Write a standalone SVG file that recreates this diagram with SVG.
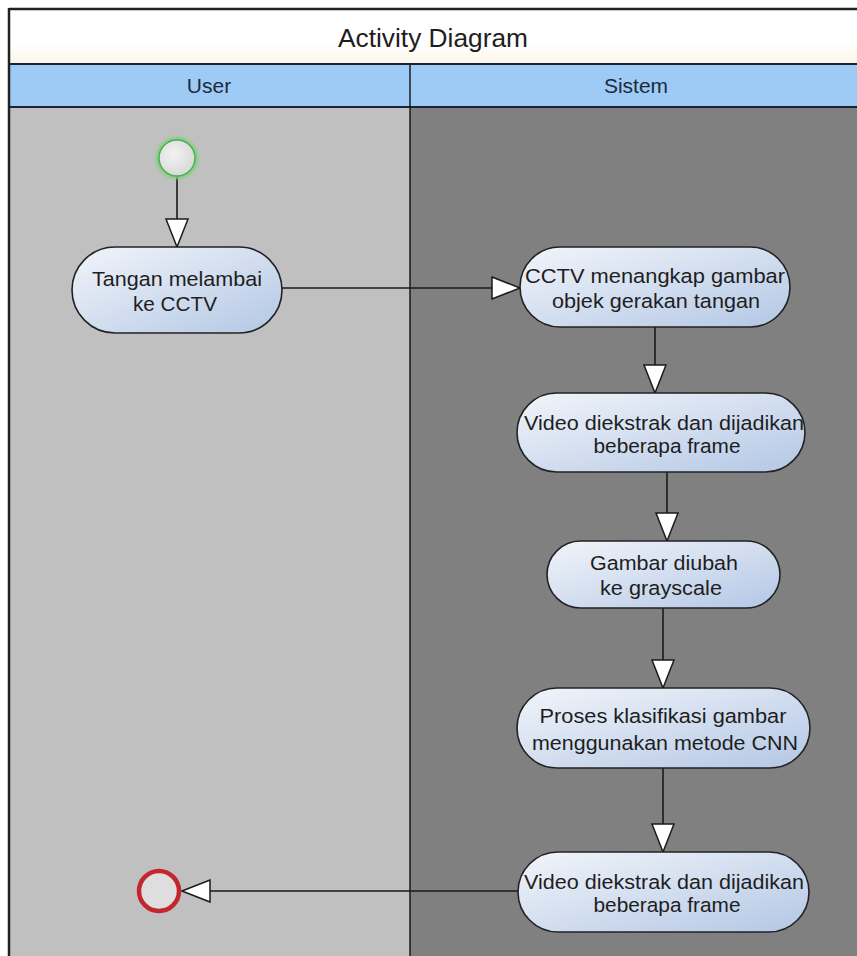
<svg xmlns="http://www.w3.org/2000/svg" width="857" height="956" viewBox="0 0 857 956">
<style>
.frame{fill:none;stroke:#1a1a1a;stroke-width:1.5}
.act{fill:url(#actGrad);stroke:#222;stroke-width:1.6}
.t{font-family:"Liberation Sans",Arial,sans-serif;font-size:20.5px;fill:#1e1e1e;text-anchor:middle}
.hdr{font-family:"Liberation Sans",Arial,sans-serif;font-size:21px;fill:#1e2a3a;text-anchor:middle}
.title{font-family:"Liberation Sans",Arial,sans-serif;font-size:25px;fill:#1e1e1e;text-anchor:middle}
.edge{fill:none;stroke:#1a1a1a;stroke-width:1.6;marker-end:url(#arr)}
</style>
<defs>
<linearGradient id="actGrad" x1="0" y1="0" x2="1" y2="1">
<stop offset="0" stop-color="#f2f5fa"/>
<stop offset="1" stop-color="#b3c7e5"/>
</linearGradient>
<radialGradient id="startGrad" cx="0.4" cy="0.4" r="0.7">
<stop offset="0" stop-color="#f2f2f2"/>
<stop offset="1" stop-color="#d6d6d6"/>
</radialGradient>
<linearGradient id="titleGrad" x1="0" y1="0" x2="0" y2="1">
<stop offset="0" stop-color="#ffffff"/>
<stop offset="0.6" stop-color="#ffffff"/>
<stop offset="1" stop-color="#fbf6ea"/>
</linearGradient>
<marker id="arr" viewBox="0 0 30 24" refX="29" refY="12" markerWidth="30" markerHeight="24" markerUnits="userSpaceOnUse" orient="auto">
<path d="M1,1 L29,12 L1,23 Z" fill="#ffffff" stroke="#1a1a1a" stroke-width="1.5" stroke-linejoin="miter"/>
</marker>
<filter id="glowG" x="-50%" y="-50%" width="200%" height="200%">
<feGaussianBlur stdDeviation="1.5"/>
</filter>
</defs>

<g id="swimlanes">
<rect x="9" y="9" width="848" height="55" fill="url(#titleGrad)"/>
<rect x="9" y="64" width="848" height="43" fill="#9dcbf6"/>
<rect x="9" y="107" width="401" height="849" fill="#c0c0c0"/>
<rect x="410" y="107" width="447" height="849" fill="#808080"/>
<line x1="9" y1="9" x2="857" y2="9" stroke="#222" stroke-width="2.5"/>
<line x1="9" y1="8" x2="9" y2="956" stroke="#222" stroke-width="2.5"/>
<line x1="9" y1="64" x2="857" y2="64" stroke="#1a2333" stroke-width="2"/>
<line x1="9" y1="107" x2="857" y2="107" stroke="#1a2333" stroke-width="2"/>
<line x1="410" y1="64" x2="410" y2="956" stroke="#1a1a1a" stroke-width="1.5"/>
<text class="title" x="433" y="47" textLength="190" lengthAdjust="spacingAndGlyphs">Activity Diagram</text>
<text class="hdr" x="209" y="93">User</text>
<text class="hdr" x="636" y="93">Sistem</text>
</g>

<g id="connectors">
<line class="edge" x1="177" y1="177" x2="177" y2="247"/>
<line class="edge" x1="282" y1="288" x2="520" y2="288"/>
<line class="edge" x1="655" y1="327" x2="655" y2="393"/>
<line class="edge" x1="667" y1="472" x2="667" y2="541"/>
<line class="edge" x1="663" y1="608" x2="663" y2="688"/>
<line class="edge" x1="663" y1="768" x2="663" y2="852"/>
<line class="edge" x1="518" y1="891" x2="182" y2="891"/>
</g>

<g id="start">
<circle cx="177" cy="158" r="19" fill="none" stroke="#7fd07f" stroke-width="4" filter="url(#glowG)"/>
<circle cx="177" cy="158" r="18" fill="url(#startGrad)" stroke="#4caf50" stroke-width="1.5"/>
</g>

<g id="a1">
<rect class="act" x="72" y="247" width="210" height="86" rx="43" ry="43"/>
<text class="t" x="177" y="286" textLength="170" lengthAdjust="spacingAndGlyphs">Tangan melambai</text>
<text class="t" x="175" y="311" textLength="84" lengthAdjust="spacingAndGlyphs">ke CCTV</text>
</g>

<g id="a2">
<rect class="act" x="520" y="247" width="270" height="80" rx="40" ry="40"/>
<text class="t" x="655" y="283" textLength="260" lengthAdjust="spacingAndGlyphs">CCTV menangkap gambar</text>
<text class="t" x="656" y="308" textLength="208" lengthAdjust="spacingAndGlyphs">objek gerakan tangan</text>
</g>

<g id="a3">
<rect class="act" x="517" y="393" width="288" height="79" rx="39.5" ry="39.5"/>
<text class="t" x="664" y="430" textLength="280" lengthAdjust="spacingAndGlyphs">Video diekstrak dan dijadikan</text>
<text class="t" x="667" y="453" textLength="147" lengthAdjust="spacingAndGlyphs">beberapa frame</text>
</g>

<g id="a4">
<rect class="act" x="547" y="541" width="233" height="67" rx="33.5" ry="33.5"/>
<text class="t" x="664" y="570" textLength="148" lengthAdjust="spacingAndGlyphs">Gambar diubah</text>
<text class="t" x="661" y="595" textLength="122" lengthAdjust="spacingAndGlyphs">ke grayscale</text>
</g>

<g id="a5">
<rect class="act" x="517" y="688" width="293" height="80" rx="40" ry="40"/>
<text class="t" x="663" y="723" textLength="247" lengthAdjust="spacingAndGlyphs">Proses klasifikasi gambar</text>
<text class="t" x="665" y="750" textLength="266" lengthAdjust="spacingAndGlyphs">menggunakan metode CNN</text>
</g>

<g id="a6">
<rect class="act" x="518" y="852" width="291" height="80" rx="40" ry="40"/>
<text class="t" x="664" y="889" textLength="280" lengthAdjust="spacingAndGlyphs">Video diekstrak dan dijadikan</text>
<text class="t" x="667" y="912" textLength="147" lengthAdjust="spacingAndGlyphs">beberapa frame</text>
</g>

<g id="end">
<circle cx="159" cy="891" r="20" fill="#dedede" stroke="#c1272d" stroke-width="4.5"/>
</g>
</svg>
